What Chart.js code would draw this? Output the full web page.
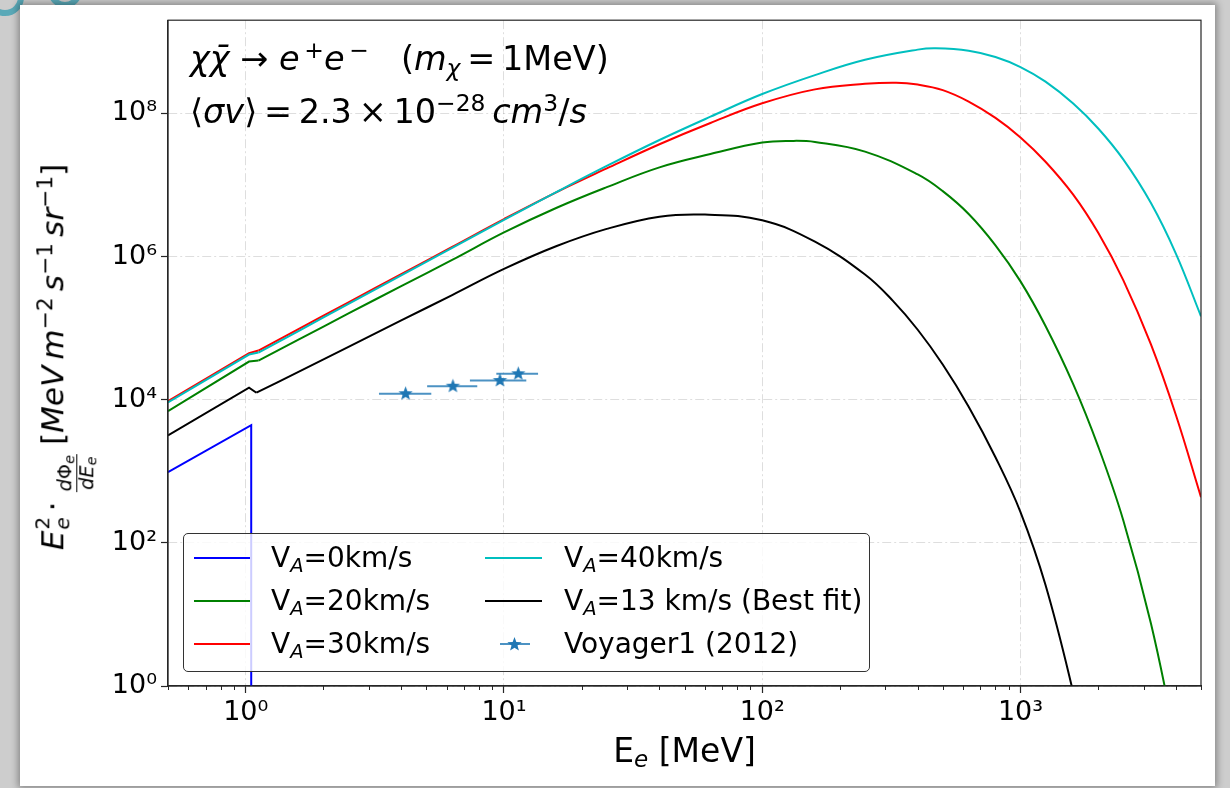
<!DOCTYPE html>
<html>
<head>
<meta charset="utf-8">
<script src="https://cdn.jsdelivr.net/npm/chart.js"></script>
<style>
  html, body { margin: 0; padding: 0; }
  body {
    width: 1230px; height: 788px; position: relative; overflow: hidden;
    background: #cdcdcd; font-family: 'DejaVu Sans', sans-serif; color: #000;
  }
  #card {
    position: absolute; left: 20px; top: 5px; width: 1195px; height: 781px;
    background: #fff; box-shadow: 0 0 7px 2px rgba(0,0,0,0.35);
  }
  .blob { position: absolute; border-radius: 50%; border: 6px solid #5aa9b8; }
  #chart { position: absolute; left: 0; top: 0; }
  .txt { position: absolute; white-space: nowrap; line-height: 1; }
  .txt sup { font-size: 70%; vertical-align: 0.5em; line-height: 0; }
  .txt sub { font-size: 70%; vertical-align: -0.25em; line-height: 0; }
  .note { font-size: 33.5px; }
  #xlab { left: 684.5px; top: 750px; transform: translate(-50%, -50%); font-size: 33px; }
  #ylab { left: 65px; top: 357px; transform: translate(-50%, -50%) rotate(-90deg); font-size: 31px; }
  .ss { display: inline-block; position: relative; width: 0.42em; height: 1em; }
  .ss .sp { position: absolute; left: 1px; top: 0; font-size: 65%; }
  .ss .sb { position: absolute; left: 1px; bottom: -9px; font-size: 65%; }
  .frac { display: inline-flex; flex-direction: column; font-size: 62%; line-height: 1.05; vertical-align: -0.42em; text-align: center; margin: 0 3px; }
  .frac .num { border-bottom: 1.3px solid #000; padding: 0 1px 1px; }
  .frac sub { font-size: 75%; vertical-align: -0.2em; }
  #legend {
    position: absolute; left: 183px; top: 533px; width: 687px; height: 139px; box-sizing: border-box;
    background: rgba(255,255,255,0.8); border: 1.2px solid #333; border-radius: 5px;
  }
  .handle { position: absolute; height: 2px; }
  .ltxt { position: absolute; font-size: 28px; white-space: nowrap; line-height: 1; transform: translateY(-50%); }
  .ltxt sub { font-size: 70%; vertical-align: -0.25em; line-height: 0; font-style: italic; }
</style>
</head>
<body>
<div class="blob" style="left:-14px; top:-22px; width:26px; height:26px;"></div>
<div class="blob" style="left:48px; top:-26px; width:22px; height:22px;"></div>
<div id="card"></div>
<canvas id="chart" width="1230" height="788"></canvas>

<div class="txt note" style="left:190px; top:42px;"><i>χ</i><i>χ&#x0304;</i>&nbsp;→&nbsp;<i>e</i><sup>&thinsp;+</sup><i>e</i><sup>&thinsp;−</sup>&nbsp;&nbsp;&nbsp;(<i>m</i><sub><i>χ</i></sub>&thinsp;=&thinsp;1MeV)</div>
<div class="txt note" style="left:190px; top:95px;">⟨<i>σv</i>⟩&thinsp;=&thinsp;2.3&thinsp;×&thinsp;10<sup>−28</sup>&thinsp;<i>cm</i><sup>3</sup>/<i>s</i></div>

<div id="xlab" class="txt">E<sub><i>e</i></sub> [MeV]</div>
<div id="ylab" class="txt"><i>E</i><span class="ss"><span class="sp">2</span><span class="sb"><i>e</i></span></span>&thinsp;·&thinsp;<span class="frac"><span class="num"><i>d</i>Φ<sub><i>e</i></sub></span><span><i>dE</i><sub><i>e</i></sub></span></span>&thinsp;[<i>MeV</i>&thinsp;<i>m</i><sup>−2</sup>&thinsp;<i>s</i><sup>−1</sup>&thinsp;<i>sr</i><sup>−1</sup>]</div>

<div id="legend"></div>

<script>
// Energies (MeV) and E^2 dPhi/dE values
const energyVA40 = [0.5, 1.03, 1.12, 1.6, 2.5, 4, 6.3, 10, 16, 25, 40, 63, 100, 160, 250, 400, 470, 630, 800, 1000, 1250, 1600, 2000, 2500, 3200, 4000, 5000];
const fluxVA40 = [9.14e3, 4.27e4, 4.55e4, 9.1e4, 2.18e5, 5.45e5, 1.32e6, 3.25e6, 8.0e6, 1.84e7, 4.24e7, 8.97e7, 1.86e8, 3.42e8, 5.6e8, 7.76e8, 8.1e8, 7.5e8, 6.12e8, 4.43e8, 2.77e8, 1.37e8, 6.14e7, 2.27e7, 5.57e6, 1.09e6, 1.46e5];

const energyVA30 = [0.5, 1.03, 1.12, 1.6, 2.5, 4, 6.3, 10, 16, 25, 40, 63, 100, 160, 250, 330, 400, 500, 630, 800, 1000, 1250, 1600, 2000, 2500, 3200, 4000, 5000];
const fluxVA30 = [9.53e3, 4.46e4, 4.85e4, 9.7e4, 2.29e5, 5.67e5, 1.36e6, 3.33e6, 7.94e6, 1.7e7, 3.7e7, 7.33e7, 1.38e8, 2.16e8, 2.58e8, 2.68e8, 2.52e8, 2.11e8, 1.46e8, 8.63e7, 4.61e7, 2.11e7, 7.31e6, 2.14e6, 4.68e5, 5.9e4, 6.05e3, 434];

const energyVA20 = [0.5, 1.03, 1.12, 1.6, 2.5, 4, 6.3, 10, 16, 25, 40, 63, 100, 130, 160, 250, 400, 500, 630, 800, 1000, 1250, 1600, 2000, 2500, 3200, 4000];
const fluxVA20 = [6.9e3, 3.41e4, 3.52e4, 6.9e4, 1.6e5, 3.86e5, 8.97e5, 2.17e6, 4.8e6, 9.3e6, 1.76e7, 2.7e7, 3.91e7, 4.12e7, 3.98e7, 2.92e7, 1.4e7, 8.18e6, 3.92e6, 1.43e6, 4.49e5, 1.07e5, 1.65e4, 2.21e3, 207, 7.46, 0.168];

const energyVA13 = [0.5, 1.03, 1.1, 1.6, 2.5, 4, 6.3, 10, 16, 25, 40, 60, 100, 160, 250, 320, 400, 500, 630, 800, 1000, 1250, 1600, 2000];
const fluxVA13 = [3.16e3, 1.47e4, 1.25e4, 2.45e4, 5.48e4, 1.28e5, 2.89e5, 6.7e5, 1.4e6, 2.43e6, 3.6e6, 3.85e6, 3.2e6, 1.61e6, 5.6e5, 2.42e5, 9.48e4, 3.1e4, 7.98e3, 1.57e3, 269, 25.7, 0.817, 0.023];

const energyVA0 = [0.5, 1.05, 1.05];
const fluxVA0 = [970, 4.4e3, 0.001];

// Voyager1 (2012) points with energy bins
const voyagerE = [4.16, 6.34, 9.65, 11.36];
const voyagerELow = [3.28, 5.04, 7.38, 9.34];
const voyagerEHigh = [5.23, 7.88, 12.2, 13.55];
const voyagerFlux = [1.21e4, 1.54e4, 1.85e4, 2.3e4];

// Axes
const xMajorTicks = [1, 10, 100, 1000];
const yMajorTicks = [1, 1e2, 1e4, 1e6, 1e8];
const xMinorSteps = [2, 3, 4, 5, 6, 7, 8, 9];

const supDigits = { '0': '⁰', '1': '¹', '2': '²', '3': '³', '4': '⁴', '5': '⁵', '6': '⁶', '7': '⁷', '8': '⁸', '9': '⁹', '-': '⁻' };
const powLabel = v => '10' + String(Math.round(Math.log10(v))).split('').map(c => supDigits[c]).join('');

const toPoints = (xs, ys) => xs.map((x, i) => ({ x: x, y: ys[i] }));

function makeStar(r, color) {
    const c = document.createElement('canvas');
    const s = Math.ceil(r * 2 + 2);
    c.width = s; c.height = s;
    const g = c.getContext('2d');
    g.fillStyle = color;
    g.beginPath();
    for (let k = 0; k < 10; k++) {
        const rad = k % 2 === 0 ? r : r * 0.42;
        const a = -Math.PI / 2 + k * Math.PI / 5;
        const px = s / 2 + rad * Math.cos(a), py = s / 2 + rad * Math.sin(a);
        if (k === 0) g.moveTo(px, py); else g.lineTo(px, py);
    }
    g.closePath();
    g.fill();
    return c;
}

const voyagerColor = '#1f77b4';
const starImg = makeStar(7.5, voyagerColor);

// kink: index where the straight low-energy part ends and the smooth part starts
const series = [
    { label: 'V<sub>A</sub>=0km/s', color: '#0000ff', xs: energyVA0, ys: fluxVA0, order: 5 },
    { label: 'V<sub>A</sub>=20km/s', color: '#008000', xs: energyVA20, ys: fluxVA20, order: 4, kink: 2 },
    { label: 'V<sub>A</sub>=30km/s', color: '#ff0000', xs: energyVA30, ys: fluxVA30, order: 3, kink: 2 },
    { label: 'V<sub>A</sub>=40km/s', color: '#00bfbf', xs: energyVA40, ys: fluxVA40, order: 2, kink: 2 },
    { label: 'V<sub>A</sub>=13 km/s (Best fit)', color: '#000000', xs: energyVA13, ys: fluxVA13, order: 1, kink: 2 }
];

const datasets = [];
series.forEach(s => {
    const pts = toPoints(s.xs, s.ys);
    const base = { label: s.label, borderColor: s.color, borderWidth: 2, pointRadius: 0, fill: false, order: s.order };
    if (s.kink) {
        datasets.push(Object.assign({}, base, { data: pts.slice(0, s.kink + 1), tension: 0 }));
        datasets.push(Object.assign({}, base, { data: pts.slice(s.kink), tension: 0.4 }));
    } else {
        datasets.push(Object.assign({}, base, { data: pts, tension: 0 }));
    }
});

datasets.push({
    label: 'Voyager1 (2012)',
    data: toPoints(voyagerE, voyagerFlux),
    showLine: false,
    pointStyle: starImg,
    pointRadius: 7,
    order: 0
});

// error bars, top/right spines and minor x ticks
const axesExtras = {
    id: 'axesExtras',
    beforeDatasetsDraw(chart) {
        const { ctx, scales: { x, y } } = chart;
        ctx.save();
        ctx.strokeStyle = 'rgba(31,119,180,0.8)';
        ctx.lineWidth = 2;
        voyagerE.forEach((e, i) => {
            const py = y.getPixelForValue(voyagerFlux[i]);
            ctx.beginPath();
            ctx.moveTo(x.getPixelForValue(voyagerELow[i]), py);
            ctx.lineTo(x.getPixelForValue(voyagerEHigh[i]), py);
            ctx.stroke();
        });
        ctx.restore();
    },
    afterDraw(chart) {
        const { ctx, chartArea: a, scales: { x } } = chart;
        ctx.save();
        ctx.strokeStyle = '#262626';
        ctx.lineWidth = 1.2;
        ctx.strokeRect(a.left, a.top, a.right - a.left, a.bottom - a.top);
        ctx.lineWidth = 1;
        [0.1].concat(xMajorTicks).forEach(d => xMinorSteps.forEach(m => {
            const v = m * d;
            if (v < x.min || v > x.max) return;
            const px = Math.round(x.getPixelForValue(v)) + 0.5;
            ctx.beginPath();
            ctx.moveTo(px, a.bottom);
            ctx.lineTo(px, a.bottom + 4);
            ctx.stroke();
        }));
        ctx.restore();
    }
};

const gridStyle = {
    color: 'rgba(0,0,0,0.13)',
    lineWidth: 1,
    tickLength: 7,
    tickColor: '#262626',
    tickWidth: 1.2
};

new Chart(document.getElementById('chart').getContext('2d'), {
    type: 'line',
    data: { datasets: datasets },
    options: {
        responsive: false,
        animation: false,
        devicePixelRatio: 1,
        layout: { padding: { left: 0, right: 29, top: 20, bottom: 0 } },
        plugins: { legend: { display: false }, tooltip: { enabled: false } },
        scales: {
            x: {
                type: 'logarithmic',
                min: 0.5,
                max: 5000,
                afterFit: s => { s.height = 102; },
                afterBuildTicks: s => { s.ticks = xMajorTicks.map(v => ({ value: v })); },
                ticks: {
                    autoSkip: false, maxRotation: 0, minRotation: 0,
                    padding: 4, color: '#000',
                    font: { family: 'DejaVu Sans', size: 27 },
                    callback: v => powLabel(v)
                },
                grid: gridStyle,
                border: { display: true, color: '#262626', width: 1.2, dash: [9, 3, 2, 3] }
            },
            y: {
                type: 'logarithmic',
                min: 1,
                max: 2e9,
                afterFit: s => { s.width = 168; },
                afterBuildTicks: s => { s.ticks = yMajorTicks.map(v => ({ value: v })); },
                ticks: {
                    autoSkip: false, padding: 4, color: '#000',
                    font: { family: 'DejaVu Sans', size: 27 },
                    callback: v => powLabel(v)
                },
                grid: gridStyle,
                border: { display: true, color: '#262626', width: 1.2, dash: [9, 3, 2, 3] }
            }
        }
    },
    plugins: [axesExtras]
});

// legend (matplotlib style, 2 columns inside the axes)
const legendBox = document.getElementById('legend');
const legendRows = [557, 600, 643];
const legendCols = [{ h: 193, w: 56, t: 270 }, { h: 484, w: 57, t: 563 }];
const legendOrder = [series[0], series[1], series[2], series[3], series[4], null];
legendOrder.forEach((s, i) => {
    const col = legendCols[Math.floor(i / 3)];
    const cy = legendRows[i % 3] - 533;
    if (s) {
        const h = document.createElement('div');
        h.className = 'handle';
        h.style.cssText = `left:${col.h - 183}px; top:${cy - 1}px; width:${col.w}px; background:${s.color};`;
        legendBox.appendChild(h);
    } else {
        const bar = document.createElement('div');
        bar.className = 'handle';
        bar.style.cssText = `left:${499 - 183}px; top:${cy - 1}px; width:30px; background:rgba(31,119,180,0.8);`;
        legendBox.appendChild(bar);
        const st = makeStar(7.5, voyagerColor);
        st.style.cssText = `position:absolute; left:${513.5 - 183 - st.width / 2}px; top:${cy - st.height / 2}px;`;
        legendBox.appendChild(st);
    }
    const t = document.createElement('div');
    t.className = 'ltxt';
    t.style.left = (col.t - 183) + 'px';
    t.style.top = cy + 'px';
    t.innerHTML = s ? s.label : 'Voyager1 (2012)';
    legendBox.appendChild(t);
});
</script>
</body>
</html>
